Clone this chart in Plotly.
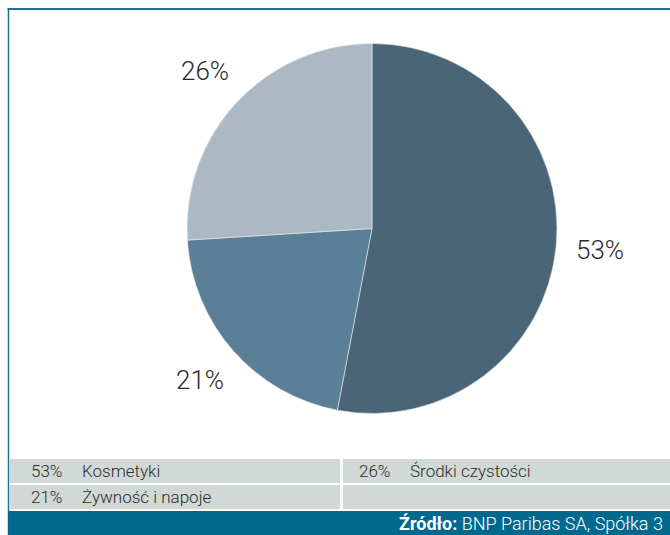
import math
import plotly.graph_objects as go

# ---- data ----
categories = ["Kosmetyki", "Żywność i napoje", "Środki czystości"]
values = [53, 21, 26]
colors = ["#4a6577", "#5b7f96", "#acb9c3"]
legend_order = ["Kosmetyki", "Środki czystości", "Żywność i napoje"]
source_bold = "Źródło:"
source_text = " BNP Paribas SA, Spółka 3"

W, H = 670, 535
FONT = "Roboto"
TXT = "#2b2b2b"

def px(x):
    return x / W

def py(y):
    return 1 - y / H

# pie geometry (window pixels)
cx, cy, R = 372, 228.5, 185

fig = go.Figure()
fig.add_trace(go.Pie(
    labels=categories, values=values, sort=False, direction="clockwise",
    rotation=0, marker=dict(colors=colors, line=dict(color="#e8ecef", width=0.6)),
    textinfo="none", hoverinfo="label+percent", showlegend=False,
    domain=dict(x=[px(cx - R), px(cx + R)], y=[py(cy + R), py(cy - R)]),
))

annotations = []
shapes = []

# percentage labels outside the slices
total = sum(values)
cum = 0
for cat, v in zip(categories, values):
    mid = (cum + v / 2) / total * 2 * math.pi
    cum += v
    r = 1.24 * R
    lx = cx + r * math.sin(mid)
    ly = cy - r * math.cos(mid)
    annotations.append(dict(
        x=px(lx), y=py(ly), xref="paper", yref="paper", showarrow=False,
        text=f"{round(v / total * 100)}%", xanchor="center", yanchor="middle",
        font=dict(family=FONT, size=26, color=TXT, weight=300),
    ))

# frame lines
shapes.append(dict(type="line", xref="paper", yref="paper",
                   x0=px(7.5), x1=1, y0=py(9), y1=py(9),
                   line=dict(color="#1f6f8c", width=2)))
shapes.append(dict(type="line", xref="paper", yref="paper",
                   x0=px(8.5), x1=px(8.5), y0=py(9), y1=0,
                   line=dict(color="#1f6f8c", width=1.5)))

# legend table
rows = [(459, 483), (485, 509)]
cols = [(9, 340), (343, 670)]
for (y0, y1) in rows:
    for (x0, x1) in cols:
        shapes.append(dict(type="rect", xref="paper", yref="paper",
                           x0=px(x0), x1=px(x1), y0=py(y1), y1=py(y0),
                           fillcolor="#d0d9d6", line=dict(width=0)))

val_map = dict(zip(categories, values))
for i, cat in enumerate(legend_order):
    r_i, c_i = divmod(i, 2)
    y0, y1 = rows[r_i]
    base = 29 if c_i == 0 else 357
    ym = (y0 + y1) / 2
    annotations.append(dict(
        x=px(base), y=py(ym), xref="paper", yref="paper", showarrow=False,
        text=f"{val_map[cat]}%", xanchor="left", yanchor="middle",
        font=dict(family=FONT, size=17, color=TXT, weight=300),
    ))
    annotations.append(dict(
        x=px(base + 51), y=py(ym), xref="paper", yref="paper", showarrow=False,
        text=cat, xanchor="left", yanchor="middle",
        font=dict(family=FONT, size=17, color=TXT, weight=300),
    ))

# footer bar
shapes.append(dict(type="rect", xref="paper", yref="paper",
                   x0=px(8), x1=1, y0=0, y1=py(511),
                   fillcolor="#006a8e", line=dict(width=0)))
annotations.append(dict(
    x=px(665), y=py(523), xref="paper", yref="paper", showarrow=False,
    text=f"<b>{source_bold}</b>{source_text}", xanchor="right", yanchor="middle",
    font=dict(family=FONT, size=18, color="white", weight=300),
))

fig.update_layout(
    width=W, height=H, margin=dict(l=0, r=0, t=0, b=0),
    paper_bgcolor="white", plot_bgcolor="white",
    shapes=shapes, annotations=annotations,
)

fig.write_html(
    "out.html",
    config={"displayModeBar": False},
    post_script=(
        "document.body.style.margin='0';"
        "document.body.style.overflow='hidden';"
        "document.documentElement.style.overflow='hidden';"
    ),
)
